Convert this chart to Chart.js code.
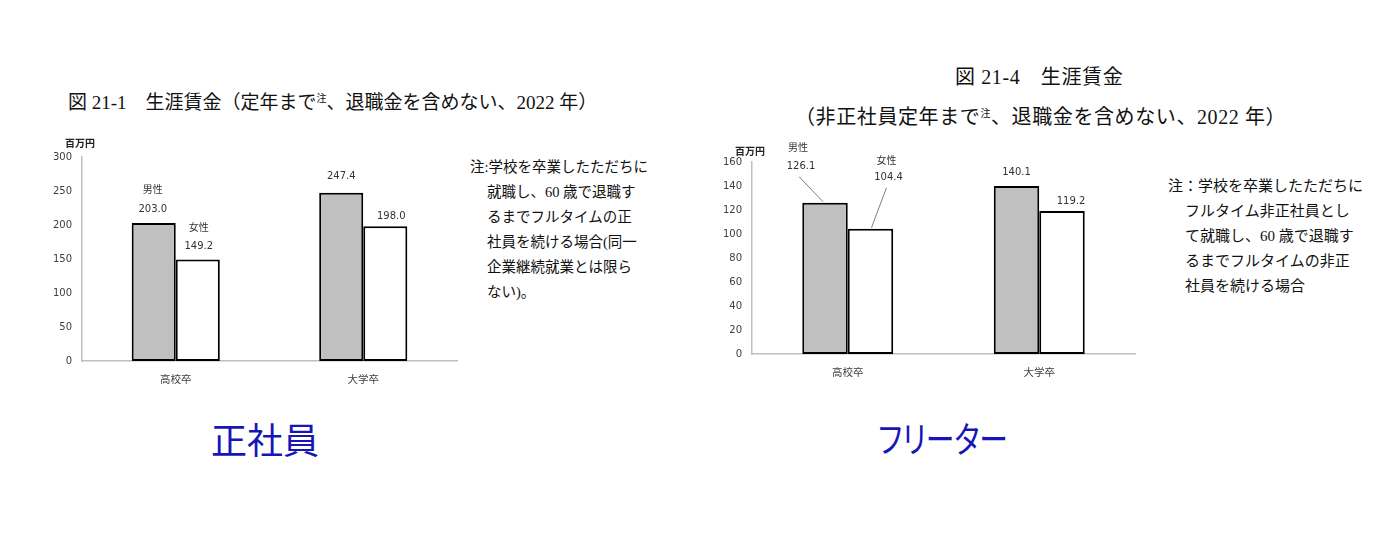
<!DOCTYPE html>
<html lang="ja">
<head>
<meta charset="utf-8">
<title>生涯賃金</title>
<script src="https://cdn.jsdelivr.net/npm/chart.js@4.4.0/dist/chart.umd.min.js"></script>
<style>
  html, body { margin: 0; padding: 0; background: #fff; }
  body { width: 1400px; height: 544px; position: relative; overflow: hidden; }
  .ttl { position: absolute; font-family: "Liberation Serif", "Noto Sans CJK JP", serif; font-size: 19px; line-height: 24px; color: #111; white-space: nowrap; }
  .ttl sup { font-size: 10px; vertical-align: 0; position: relative; top: -7px; }
  .ttl2 { font-size: 20px; letter-spacing: 0.6px; }
  .note { position: absolute; font-family: "Liberation Serif", "Noto Sans CJK JP", serif; color: #111; white-space: nowrap; }
  .note div { height: 25px; line-height: 25px; }
  .note .ind { padding-left: 17px; }
  .big { position: absolute; font-family: "Noto Sans CJK JP", sans-serif; font-size: 36px; line-height: 44px; color: #1616b8; white-space: nowrap; font-feature-settings: "palt"; }
  canvas { position: absolute; }
</style>
</head>
<body>

<div class="ttl" style="left:68px; top:91px;">図 21-1　生涯賃金（定年まで<sup>注</sup>、退職金を含めない、2022 年）</div>
<div class="ttl ttl2" style="left:955px; top:65px;">図 21-4　生涯賃金</div>
<div class="ttl ttl2" style="left:795px; top:105px;">（非正社員定年まで<sup>注</sup>、退職金を含めない、2022 年）</div>

<canvas id="chart1" width="430" height="265" style="left:40px; top:130px;"></canvas>
<canvas id="chart2" width="440" height="260" style="left:710px; top:130px;"></canvas>

<div class="note" style="left:470px; top:155px; font-size:14.5px;">
  <div>注:学校を卒業したただちに</div>
  <div class="ind">就職し、60 歳で退職す</div>
  <div class="ind">るまでフルタイムの正</div>
  <div class="ind">社員を続ける場合(同一</div>
  <div class="ind">企業継続就業とは限ら</div>
  <div class="ind">ない)。</div>
</div>

<div class="note" style="left:1168px; top:174px; font-size:15px;">
  <div>注：学校を卒業したただちに</div>
  <div class="ind">フルタイム非正社員とし</div>
  <div class="ind">て就職し、60 歳で退職す</div>
  <div class="ind">るまでフルタイムの非正</div>
  <div class="ind">社員を続ける場合</div>
</div>

<div class="big" style="left:265px; top:416px; transform: translateX(-50%);">正社員</div>
<div class="big" style="left:943px; top:415px; transform: translateX(-50%) scaleX(0.8);">フリーター</div>

<script>
// データ
const categories = ['高校卒', '大学卒'];
const genderLabels = ['男性', '女性'];
const seishainMale = [203.0, 247.4];      // 正社員 男性
const seishainFemale = [149.2, 198.0];    // 正社員 女性
const freeterMale = [126.1, 140.1];       // フリーター 男性
const freeterFemale = [104.4, 119.2];     // フリーター 女性
const unitLabel = '百万円';
const axis1 = {max: 300, step: 50};
const axis2 = {max: 160, step: 20};

const NUM_FONT = '"DejaVu Sans", "Noto Sans CJK JP", sans-serif';
const MaleColor = '#c0c0c0';
const FemaleColor = '#ffffff';
const AxisColor = '#bfbfbf';
const TextColor = '#404040';

// 値ラベル・性別ラベル・引き出し線を描くプラグイン
const barLabels = {
  id: 'barLabels',
  afterDatasetsDraw(chart, args, opts) {
    const ctx = chart.ctx;
    ctx.save();
    ctx.textAlign = 'center';
    ctx.textBaseline = 'middle';
    chart.data.datasets.forEach((ds, i) => {
      const meta = chart.getDatasetMeta(i);
      meta.data.forEach((bar, j) => {
        const o = opts.offsets[i][j];
        const x = bar.x, y = bar.y;
        ctx.fillStyle = '#333';
        ctx.font = '10px ' + NUM_FONT;
        ctx.fillText(ds.data[j].toFixed(1), x + o.dx, y + o.dy);
        if (o.g) {
          ctx.font = '10px "Noto Sans CJK JP", sans-serif';
          ctx.fillText(genderLabels[i], x + o.g[0], y + o.g[1]);
        }
        if (o.line) {
          ctx.strokeStyle = '#7f7f7f';
          ctx.lineWidth = 1;
          ctx.beginPath();
          ctx.moveTo(x + o.line[0], y + o.line[1]);
          ctx.lineTo(x + o.line[2], y + o.line[3]);
          ctx.stroke();
        }
      });
    });
    // 単位
    ctx.font = 'bold 10px "Noto Sans CJK JP", sans-serif';
    ctx.fillStyle = '#222';
    ctx.fillText(unitLabel, chart.chartArea.left - 2, chart.chartArea.top - opts.unitDy);
    ctx.restore();
  }
};

function makeChart(id, male, female, axis, pad, yW, xH, catPct, offsets, unitDy) {
  return new Chart(id, {
    type: 'bar',
    data: {
      labels: categories,
      datasets: [
        {label: genderLabels[0], data: male, backgroundColor: MaleColor,
         borderColor: '#000', borderWidth: 2, borderSkipped: false},
        {label: genderLabels[1], data: female, backgroundColor: FemaleColor,
         borderColor: '#000', borderWidth: 2, borderSkipped: false}
      ]
    },
    options: {
      responsive: false,
      animation: false,
      events: [],
      layout: {padding: pad},
      datasets: {bar: {barPercentage: 1.0, categoryPercentage: catPct}},
      plugins: {
        legend: {display: false},
        tooltip: {enabled: false},
        barLabels: {offsets: offsets, unitDy: unitDy}
      },
      scales: {
        x: {
          grid: {display: false, drawTicks: false},
          border: {color: AxisColor, width: 1.5},
          ticks: {color: TextColor, padding: 12, font: {size: 10.5, family: '"Noto Sans CJK JP", sans-serif'}},
          afterFit(s) { s.height = xH; }
        },
        y: {
          min: 0, max: axis.max,
          grid: {display: false, drawTicks: false},
          border: {color: AxisColor, width: 1.5},
          ticks: {stepSize: axis.step, color: TextColor, padding: 10, font: {size: 10, family: NUM_FONT}},
          afterFit(s) { s.width = yW; }
        }
      }
    },
    plugins: [barLabels]
  });
}

// 図 21-1 正社員
makeChart('chart1', seishainMale, seishainFemale, axis1,
  {top: 27, right: 13, left: 0, bottom: 0}, 42, 34, 0.47,
  [
    [{dx: -1, dy: -14, g: [-1, -34]}, {dx: 0, dy: -16}],
    [{dx: 1, dy: -13.5, g: [1, -32.5]}, {dx: 6, dy: -10}]
  ], 14);

// 図 21-4 フリーター
makeChart('chart2', freeterMale, freeterFemale, axis2,
  {top: 32, right: 15, left: 0, bottom: 0}, 42, 36, 0.475,
  [
    [{dx: -24, dy: -36, g: [-27, -55], line: [-26, -26, -2, -1]}, {dx: 0, dy: -13}],
    [{dx: 18, dy: -51, g: [16, -69], line: [16, -41, 1, -1]}, {dx: 9, dy: -10}]
  ], 11);
</script>
</body>
</html>
